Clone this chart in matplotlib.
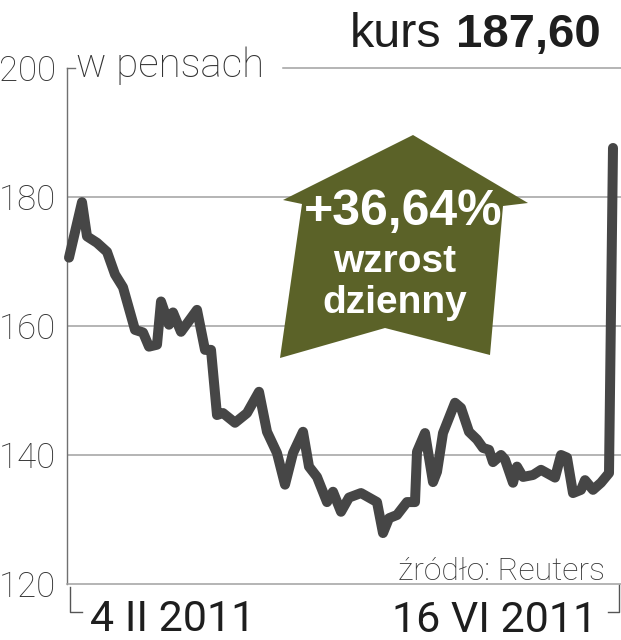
import matplotlib.pyplot as plt
from matplotlib.patches import Polygon

# Data
days = [0, 3.25, 4.5, 7, 9.5, 11.5, 13.5, 16.5, 18.5, 20, 22, 23, 25, 26, 28,
        32, 34, 35.5, 37, 38.5, 41.5, 44.5, 47.5, 49.5, 52, 54, 56, 58.5, 60,
        62, 64.5, 66, 68, 70, 73, 75, 77, 78.5, 80, 82, 84.5, 86.5, 87, 89,
        91, 92, 93.5, 96.5, 98, 100, 102, 103.5, 105, 106, 108, 109, 111, 112,
        113.5, 116, 118, 121.5, 123, 124.5, 126, 128, 129, 131, 133, 135, 136]
price = [170.6, 179.2, 173.9, 172.9, 171.5, 168.0, 166.0, 159.4, 159.0, 156.8,
         157.1, 163.8, 160.2, 162.1, 159.1, 162.5, 156.3, 156.3, 146.2, 146.5,
         145.0, 146.5, 149.8, 143.6, 140.3, 135.4, 140.3, 143.6, 138.2, 136.6,
         132.7, 134.3, 131.2, 133.4, 134.1, 133.4, 132.7, 127.9, 130.2, 130.7,
         132.7, 132.7, 140.5, 143.4, 135.8, 137.4, 143.4, 148.1, 147.3, 143.6,
         142.4, 141.1, 140.8, 138.9, 140.0, 139.3, 135.7, 138.2, 136.6, 136.9,
         137.7, 136.5, 140.0, 139.6, 134.1, 134.6, 136.1, 134.6, 135.7, 137.2,
         187.6]
yticks = [120, 140, 160, 180, 200]
start_label = "4 II 2011"
end_label = "16 VI 2011"

W, H = 621, 640


def px(x, y):
    # pixel position -> figure fraction
    return x / W, 1 - y / H


LINE = '#464646'
GRID = '#a0a0a0'
OLIVE = '#5b6228'
TXT = '#1e1e1e'
LIGHT = ['Roboto', 'DejaVu Sans']

fig = plt.figure(figsize=(W / 100, H / 100), dpi=100)
ax = fig.add_axes([67 / W, 56 / H, 554 / W, 516 / H])

ax.set_xlim(-0.5, 138)
ax.set_ylim(120, 200)

# Grid
for v in yticks[1:-1]:
    ax.axhline(v, color=GRID, lw=1.1, zorder=1)
ax.axhline(200, xmin=(283 - 67) / 554, xmax=1, color=GRID, lw=1.1, zorder=1, clip_on=False)
ax.axhline(200, xmin=0, xmax=8 / 554, color='#707070', lw=1.0, zorder=1, clip_on=False)

for s in ['top', 'right']:
    ax.spines[s].set_visible(False)
ax.spines['left'].set_color('#707070')
ax.spines['left'].set_linewidth(1.0)
ax.spines['bottom'].set_color(GRID)
ax.spines['bottom'].set_linewidth(1.1)

ax.set_xticks([])
ax.set_yticks(yticks)
ax.tick_params(axis='y', length=0, pad=8)
for lab in ax.get_yticklabels():
    lab.set_fontfamily(LIGHT)
    lab.set_fontweight('light')
    lab.set_fontsize(25)
    lab.set_color('#333333')

# Price line
ax.plot(days, price, color=LINE, lw=7.2, solid_joinstyle='round',
        solid_capstyle='round', zorder=3, clip_on=False)

# Arrow badge
arrow = [(413, 135), (528, 203), (503, 206), (490, 355), (385, 328),
         (280, 358), (302, 204), (283, 200)]
fig.patches.append(Polygon([px(x, y) for x, y in arrow], closed=True,
                           transform=fig.transFigure, facecolor=OLIVE,
                           edgecolor='none', zorder=4))

bold = ['Liberation Sans', 'DejaVu Sans']
fig.text(*px(403, 225), "+36,64%", color='white', fontsize=36, fontweight='bold',
         family=bold, ha='center', va='baseline', zorder=5)
fig.text(*px(395, 272), "wzrost", color='white', fontsize=28, fontweight='bold',
         family=bold, ha='center', va='baseline', zorder=5)
fig.text(*px(395, 313), "dzienny", color='white', fontsize=28, fontweight='bold',
         family=bold, ha='center', va='baseline', zorder=5)

# Header texts
fig.text(*px(441, 47), "kurs", color=TXT, fontsize=35,
         family=['Liberation Sans Narrow', 'Liberation Sans', 'DejaVu Sans'],
         ha='right', va='baseline')
fig.text(*px(601, 47), "187,60", color=TXT, fontsize=34, fontweight='bold',
         family=bold, ha='right', va='baseline')
fig.text(*px(76, 77), "w pensach", color='#333333', fontsize=29, fontweight='light',
         family=LIGHT, ha='left', va='baseline')
fig.text(*px(605, 580), "źródło: Reuters", color='#333333', fontsize=23,
         fontweight='light', family=LIGHT, ha='right', va='baseline')

# Date labels with brackets
fig.text(*px(90, 631), start_label, color=TXT, fontsize=31,
         family=LIGHT, ha='left', va='baseline')
fig.text(*px(597, 632), end_label, color=TXT, fontsize=31,
         family=LIGHT, ha='right', va='baseline')
for xs, ys in [([70, 70, 82], [587, 612, 612]), ([619, 619, 608], [585, 612, 612])]:
    fig.lines.append(plt.Line2D([x / W for x in xs], [1 - y / H for y in ys],
                                transform=fig.transFigure, color='#555555', lw=1.0))

fig.savefig('out.png', dpi=100, facecolor='white')
